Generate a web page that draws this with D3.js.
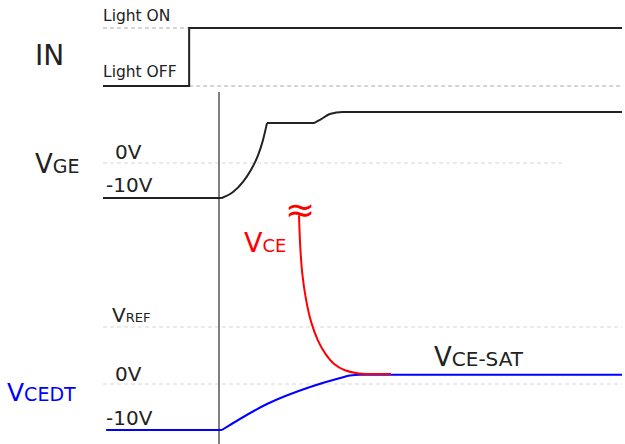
<!DOCTYPE html>
<html>
<head>
<meta charset="utf-8">
<title>IGBT drive timing</title>
<style>
  body { margin: 0; background: #fff; }
  svg { display: block; font-family: 'DejaVu Sans', sans-serif; }
</style>
<script src="https://d3js.org/d3.v7.min.js"></script>
</head>
<body>
<svg id="chart" width="625" height="444"></svg>
<script>
// time axis is arbitrary units, 0..100
var inTime = [0, 16.6, 100];
var inLevel = [0, 1, 1];
var markerTime = 22.35;

// each trace is split into pieces so the sharp corners stay sharp
var vgeTime = [[0, 22.9], [22.9, 25.05, 26.97, 28.5, 29.9, 30.83, 31.6], [31.6, 40.65], [40.65, 41.8, 43.7, 46.2, 100]];
var vgeVolt = [[-10, -10], [-10, -8.3, -5.4, -2.0, 2.3, 6.6, 11.4], [11.4, 11.4], [11.4, 12.3, 14.0, 14.6, 14.6]];

var vceTime = [[37.77, 38.0, 38.4, 39.1, 40.1, 41.4, 42.9, 44.6, 46.6, 49.3, 55.5]];
var vceVolt = [[36.7, 30.0, 24.0, 18.5, 13.5, 9.5, 6.5, 4.3, 3.0, 2.3, 2.2]];

var vcedtTime = [[0.6, 22.9], [22.9, 31.6, 39.9, 45.7, 47.6, 49.5, 100]];
var vcedtVolt = [[-10, -10], [-10, -4.35, -0.65, 1.3, 1.85, 2.0, 2.0]];

var vrefVolt = 12.4;
var vgeZeroEnd = 89;

var svg = d3.select("#chart");
var x = d3.scaleLinear().domain([0, 100]).range([103, 622]);
var yIn = d3.scaleLinear().domain([0, 1]).range([86, 28]);
var yGe = d3.scaleLinear().domain([-10, 0]).range([198, 163]);
var yDt = d3.scaleLinear().domain([-10, 0]).range([430, 384]);

function dashed(t0, t1, y, color) {
  svg.append("line")
    .attr("x1", x(t0)).attr("x2", x(t1))
    .attr("y1", y).attr("y2", y)
    .attr("stroke", color).attr("stroke-width", 1)
    .attr("stroke-dasharray", "4,3");
}

// reference dashed lines
dashed(0, inTime[1], yIn(1), "#aaa");
dashed(inTime[1], 100, yIn(0), "#aaa");
dashed(0, vgeZeroEnd, yGe(0), "#d6d6d6");
dashed(0, 100, yDt(vrefVolt), "#d6d6d6");
dashed(0, 100, yDt(0), "#d6d6d6");

// marker line
svg.append("line")
  .attr("x1", x(markerTime)).attr("x2", x(markerTime))
  .attr("y1", 92).attr("y2", 444)
  .attr("stroke", "#555").attr("stroke-width", 1.5);

// IN step
var inLine = d3.line().x(function(d, i) { return x(inTime[i]); })
  .y(function(d) { return yIn(d); }).curve(d3.curveStepAfter);
svg.append("path").attr("d", inLine(inLevel))
  .attr("fill", "none").attr("stroke", "#222").attr("stroke-width", 2);

function trace(times, volts, yScale, color, curve) {
  var d = "";
  times.forEach(function(ts, k) {
    var line = d3.line().x(function(v, i) { return x(ts[i]); })
      .y(function(v) { return yScale(v); })
      .curve(ts.length > 2 ? curve : d3.curveLinear);
    d += line(volts[k]);
  });
  svg.append("path").attr("d", d)
    .attr("fill", "none").attr("stroke", color).attr("stroke-width", 2)
    .attr("stroke-linejoin", "round");
}

trace(vgeTime, vgeVolt, yGe, "#222", d3.curveMonotoneX);
trace(vcedtTime, vcedtVolt, yDt, "#0000ff", d3.curveMonotoneX);
trace(vceTime, vceVolt, yDt, "#ff0000", d3.curveCatmullRom.alpha(0.5));

// break symbol at top of VCE
svg.append("text").attr("x", x(vceTime[0][0]) + 1).attr("y", 222)
  .attr("text-anchor", "middle").attr("fill", "#ff0000")
  .attr("font-size", 36).text("\u2248");

function label(px, py, big, small, size, smallSize, color) {
  var t = svg.append("text").attr("x", px).attr("y", py).attr("fill", color);
  t.append("tspan").attr("font-size", size).text(big);
  if (small) t.append("tspan").attr("font-size", smallSize).text(small);
  return t;
}

label(35, 65, "IN", null, 28, 0, "#222");
svg.append("text").attr("x", 103).attr("y", 21).attr("font-size", 15.5).attr("fill", "#222").text("Light ON");
svg.append("text").attr("x", 103).attr("y", 77).attr("font-size", 15.5).attr("fill", "#222").text("Light OFF");

label(35, 173, "V", "GE", 26, 19, "#222");
label(115, yGe(0) - 4, "0V", null, 20, 0, "#222");
label(106, yGe(-10) - 6, "-10V", null, 20, 0, "#222");

label(244, 252, "V", "CE", 27, 18, "#ff0000");
label(112, 322, "V", "REF", 20, 13, "#222");
label(115, yDt(0) - 3, "0V", null, 20, 0, "#222");
label(106, yDt(-10) - 5, "-10V", null, 20, 0, "#222");
label(7, 401, "V", "CEDT", 25, 19, "#0000ff");
label(434, 366, "V", "CE-SAT", 26, 20, "#222");
</script>
</body>
</html>
